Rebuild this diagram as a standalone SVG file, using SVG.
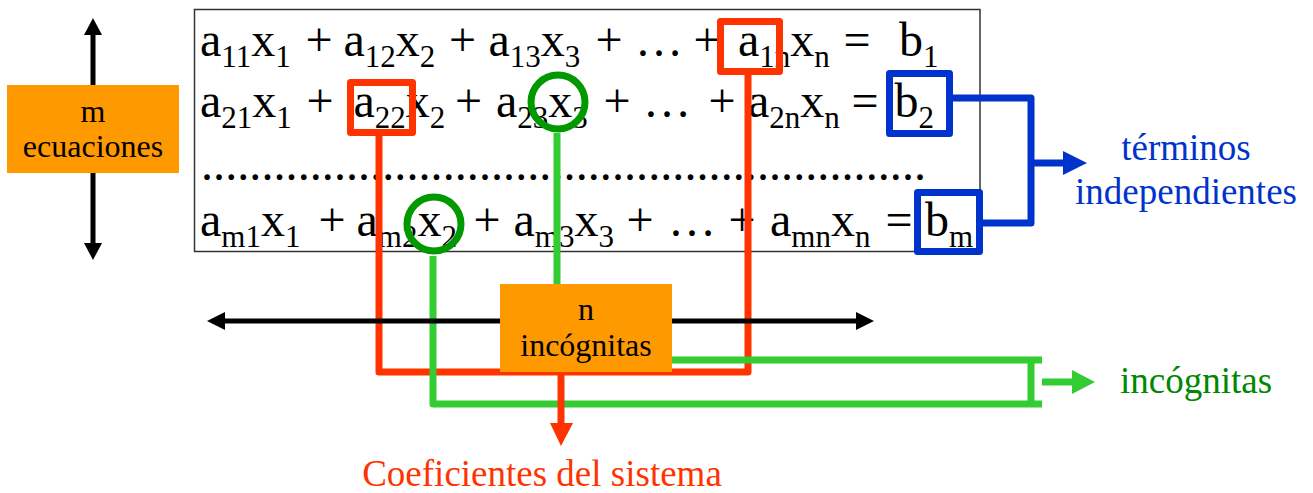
<svg xmlns="http://www.w3.org/2000/svg" width="1313" height="493" viewBox="0 0 1313 493">
<style>
.eq{font-family:"Liberation Serif","Times New Roman",serif;font-size:48px;fill:#000;white-space:pre}
.s{font-size:31px}
.lbl{font-family:"Liberation Serif","Times New Roman",serif;text-anchor:middle}
.red{stroke:#FF3300;stroke-width:7;fill:none;stroke-linejoin:round}
.grn{stroke:#33CC33;stroke-width:7;fill:none;stroke-linejoin:round}
.blu{stroke:#0033CC;stroke-width:7;fill:none;stroke-linejoin:round}
.blk{stroke:#000;stroke-width:5;fill:none}
.circ{stroke:#009900;stroke-width:7;fill:none}
.box{fill:#FF9900}
</style>
<g id="equations">
<rect x="194.5" y="9.5" width="785.5" height="242" fill="#fff" stroke="#333" stroke-width="1.5"/>
<text class="eq"><tspan x="200" y="56">a</tspan><tspan class="s" y="67">11</tspan><tspan y="56">x</tspan><tspan class="s" y="67">1</tspan><tspan x="305.5" y="56">+</tspan><tspan x="343.5" y="56">a</tspan><tspan class="s" y="67">12</tspan><tspan y="56">x</tspan><tspan class="s" y="67">2</tspan><tspan x="449" y="56">+</tspan><tspan x="488.5" y="56">a</tspan><tspan class="s" y="67">13</tspan><tspan y="56">x</tspan><tspan class="s" y="67">3</tspan><tspan x="595.5" y="56">+</tspan><tspan x="635" y="56">…</tspan><tspan x="693.5" y="56">+</tspan><tspan x="738" y="56">a</tspan><tspan class="s" y="67">1n</tspan><tspan y="56">x</tspan><tspan class="s" y="67">n</tspan><tspan x="843.5" y="56">=</tspan><tspan x="899" y="56">b</tspan><tspan class="s" y="67">1</tspan></text>
<text class="eq"><tspan x="200" y="117">a</tspan><tspan class="s" y="128">21</tspan><tspan y="117">x</tspan><tspan class="s" y="128">1</tspan><tspan x="306.5" y="117">+</tspan><tspan x="353.5" y="117">a</tspan><tspan class="s" y="128">22</tspan><tspan y="117">x</tspan><tspan class="s" y="128">2</tspan><tspan x="455" y="117">+</tspan><tspan x="496" y="117">a</tspan><tspan class="s" y="128">23</tspan><tspan y="117">x</tspan><tspan class="s" y="128">3</tspan><tspan x="603.5" y="117">+</tspan><tspan x="643" y="117">…</tspan><tspan x="708.5" y="117">+</tspan><tspan x="748" y="117">a</tspan><tspan class="s" y="128">2n</tspan><tspan y="117">x</tspan><tspan class="s" y="128">n</tspan><tspan x="851.5" y="117">=</tspan><tspan x="894.5" y="117">b</tspan><tspan class="s" y="128">2</tspan></text>
<text class="eq" x="201" y="180" textLength="725" lengthAdjust="spacing">............................................................</text>
<text class="eq"><tspan x="200" y="236">a</tspan><tspan class="s" y="247">m1</tspan><tspan y="236">x</tspan><tspan class="s" y="247">1</tspan><tspan x="318.5" y="236">+</tspan><tspan x="356.5" y="236">a</tspan><tspan class="s" y="247">m2</tspan><tspan y="236">x</tspan><tspan class="s" y="247">2</tspan><tspan x="473.5" y="236">+</tspan><tspan x="513.5" y="236">a</tspan><tspan class="s" y="247">m3</tspan><tspan y="236">x</tspan><tspan class="s" y="247">3</tspan><tspan x="626.5" y="236">+</tspan><tspan x="668" y="236">…</tspan><tspan x="728.5" y="236">+</tspan><tspan x="770" y="236">a</tspan><tspan class="s" y="247">mn</tspan><tspan y="236">x</tspan><tspan class="s" y="247">n</tspan><tspan x="885.5" y="236">=</tspan><tspan x="925" y="236">b</tspan><tspan class="s" y="247">m</tspan></text>
</g>
<g id="connectors">
<path class="red" d="M379,136 V372 H748 V75"/>
<path class="grn" d="M557,133 V285"/>
<path class="grn" d="M433,256 V404 H1042"/>
<path class="grn" d="M672,360 H1042"/>
<path class="grn" d="M1031,360 V404"/>
<path class="grn" d="M1042,382 H1075"/>
<polygon points="1072,370 1072,394 1095,382" fill="#33CC33"/>
<path class="blu" d="M953,98 H1031 V223 H982"/>
<path class="blu" d="M1031,163 H1066"/>
<polygon points="1063,151 1063,175 1087,163" fill="#0033CC"/>
<path class="blk" d="M222,321 H859"/>
<polygon points="207,321 225,312 225,330" fill="#000"/>
<polygon points="874,321 856,312 856,330" fill="#000"/>
<path class="blk" d="M93,33 V245"/>
<polygon points="93,18 84,35 102,35" fill="#000"/>
<polygon points="93,260 84,243 102,243" fill="#000"/>
<path class="red" d="M561,372 V426"/>
<polygon points="550,423 573,423 561,446" fill="#FF3300"/>
</g>
<g id="markers">
<rect class="red" x="720.5" y="21.5" width="59" height="50"/>
<rect class="red" x="350.5" y="82.5" width="62" height="50"/>
<circle class="circ" cx="558" cy="102" r="27"/>
<circle class="circ" cx="434" cy="224" r="27"/>
<rect class="blu" x="889.5" y="73.5" width="60" height="60"/>
<rect class="blu" x="917.5" y="192.5" width="62" height="59"/>
</g>
<g id="node-m">
<rect class="box" x="7" y="85" width="172" height="88"/>
<text class="lbl" x="93" y="122" font-size="32">m</text>
<text class="lbl" x="93" y="157" font-size="32">ecuaciones</text>
</g>
<g id="node-n">
<rect class="box" x="500" y="284" width="172" height="88"/>
<text class="lbl" x="586" y="320" font-size="32">n</text>
<text class="lbl" x="586" y="356" font-size="32">incógnitas</text>
</g>
<g id="label-terminos">
<text class="lbl" x="1186" y="160" font-size="37" fill="#0033CC">términos</text>
<text class="lbl" x="1186" y="204" font-size="37" fill="#0033CC">independientes</text>
</g>
<g id="label-incognitas">
<text class="lbl" x="1196" y="393" font-size="37" fill="#008800">incógnitas</text>
</g>
<g id="label-coef">
<text class="lbl" x="542" y="486" font-size="37" fill="#FF3300">Coeficientes del sistema</text>
</g>
</svg>
